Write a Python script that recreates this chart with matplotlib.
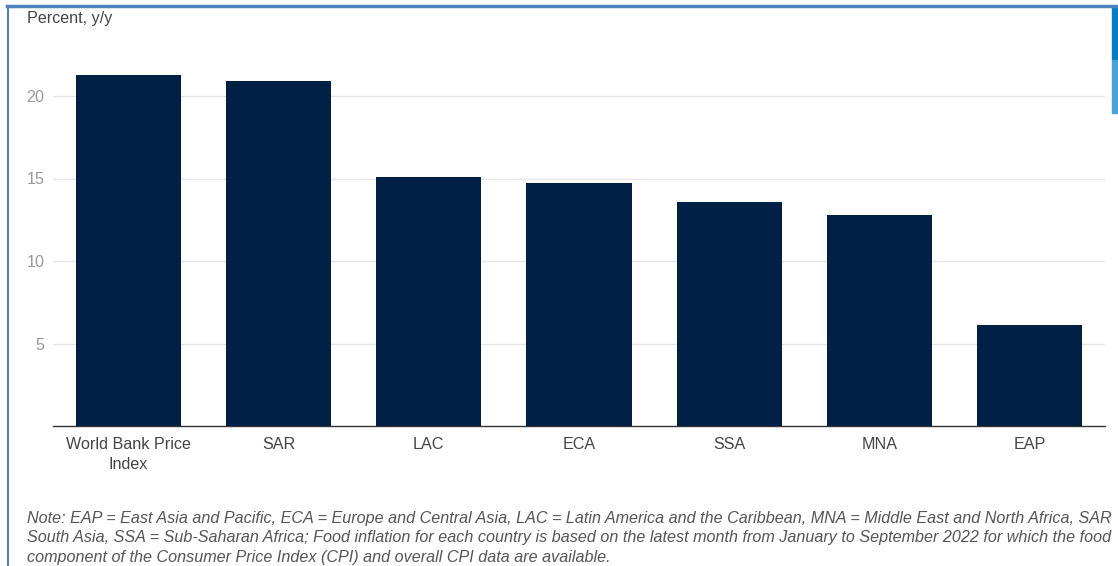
import matplotlib.pyplot as plt
from matplotlib.patches import Rectangle
from matplotlib.lines import Line2D

plt.rcParams['font.family'] = ['Liberation Sans', 'DejaVu Sans']

# food inflation by region, percent y/y
regions = ["World Bank Price\nIndex", "SAR", "LAC", "ECA", "SSA", "MNA", "EAP"]
food_inflation = [21.3, 20.9, 15.1, 14.7, 13.6, 12.8, 6.1]
y_ticks = [5, 10, 15, 20]

note = ("Note: EAP = East Asia and Pacific, ECA = Europe and Central Asia, LAC = Latin America and the Caribbean, "
        "MNA = Middle East and North Africa, SAR\n"
        "South Asia, SSA = Sub-Saharan Africa; Food inflation for each country is based on the latest month from "
        "January to September 2022 for which the food\n"
        "component of the Consumer Price Index (CPI) and overall CPI data are available.")

fig = plt.figure(figsize=(11.18, 5.66), dpi=100)
ax = fig.add_axes([53 / 1118, 1 - 426 / 566, 1052 / 1118, 396 / 566])

ax.bar(range(len(regions)), food_inflation, width=0.7, color="#002145", zorder=3)
ax.set_xlim(-0.5, len(regions) - 0.5)
ax.set_ylim(0, 24)
ax.set_yticks(y_ticks)
ax.set_xticks(range(len(regions)))
ax.set_xticklabels(regions, fontsize=11.6, color="#444444", linespacing=1.4)
ax.tick_params(axis="y", length=0, labelsize=11.6, labelcolor="#999999", pad=6)
ax.tick_params(axis="x", length=0, pad=8)
ax.grid(axis="y", color="#e6e6e6", linewidth=1, zorder=0)
for s in ["top", "right", "left"]:
    ax.spines[s].set_visible(False)
ax.spines["bottom"].set_color("#333333")
ax.spines["bottom"].set_linewidth(1)

fig.text(27 / 1118, 1 - 18 / 566, "Percent, y/y", fontsize=11.6, color="#444444", va="center")
fig.text(27 / 1118, 1 - 511 / 566, note, fontsize=11.6, style="italic", color="#555555",
         va="top", linespacing=1.37)

# window frame and scrollbar
fig.add_artist(Line2D([7 / 1118, 1], [1 - 6 / 566] * 2, color="#4f81bd", linewidth=2.5))
fig.add_artist(Line2D([8 / 1118] * 2, [0, 1 - 6 / 566], color="#4f81bd", linewidth=1.5))
fig.add_artist(Rectangle((1112 / 1118, 1 - 60 / 566), 6 / 1118, 53 / 566, color="#0a7bbd"))
fig.add_artist(Rectangle((1112 / 1118, 1 - 113 / 566), 6 / 1118, 53 / 566, color="#4aa3d6"))

fig.savefig("out.png", dpi=100)
